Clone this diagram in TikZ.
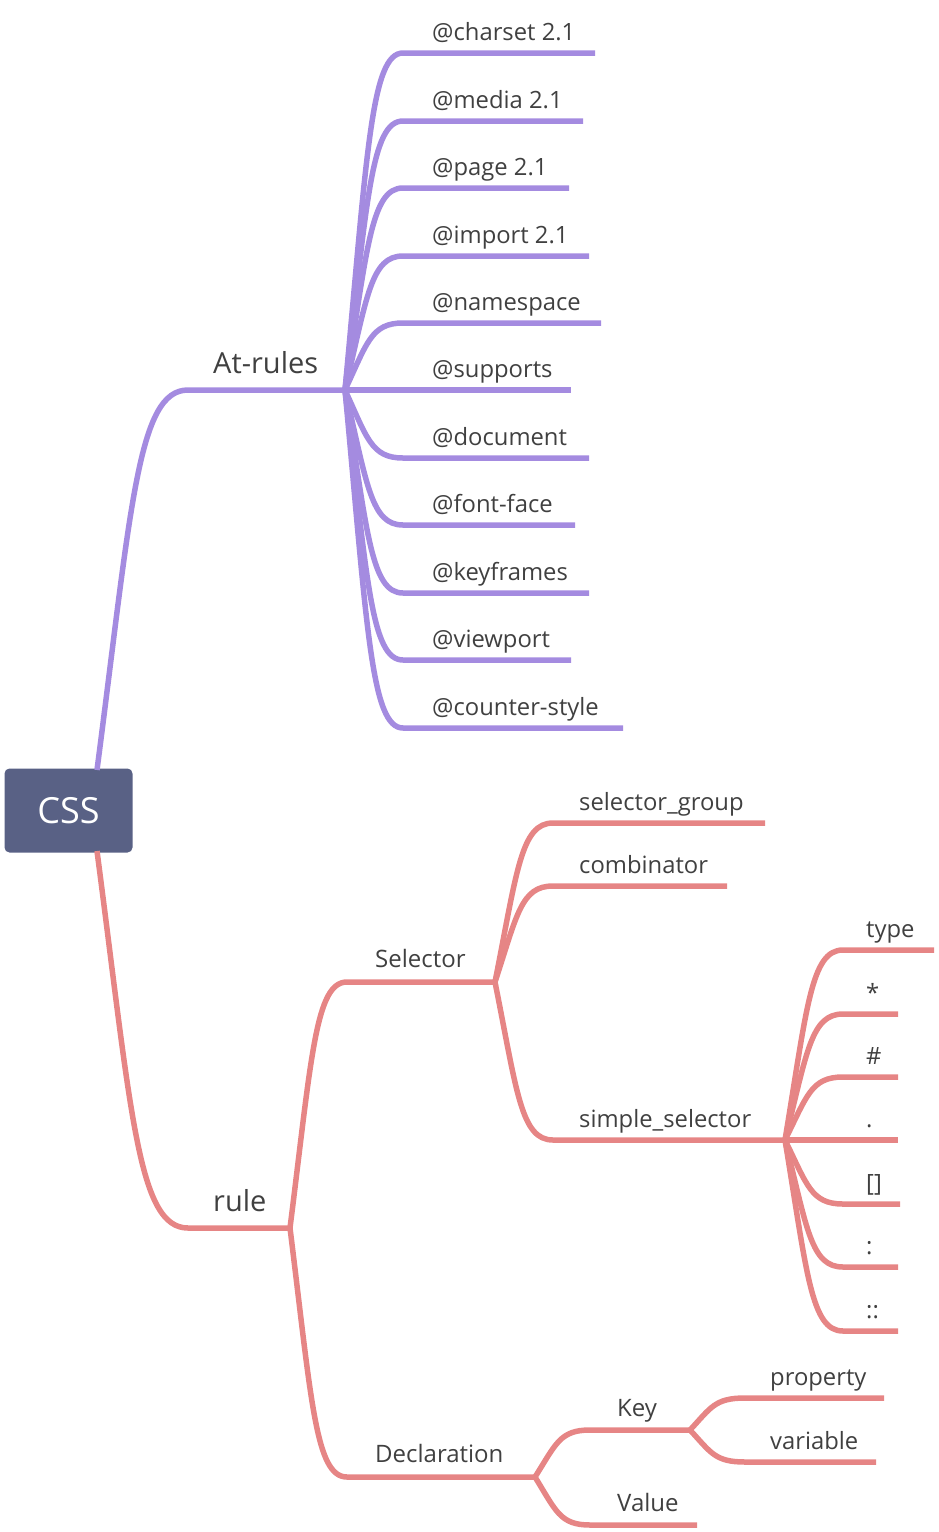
\documentclass[tikz,border=0pt]{standalone}
\usepackage{fontspec}
\setmainfont{Open Sans}
\usetikzlibrary{calc}
\definecolor{pur}{HTML}{A48BE0}
\definecolor{red}{HTML}{E68585}
\definecolor{boxc}{HTML}{596185}
\definecolor{txt}{HTML}{404040}
\tikzset{
  pline/.style={draw=pur, line width=5.5pt, line cap=butt, line join=round},
  rline/.style={draw=red, line width=5.5pt, line cap=butt, line join=round},
  leaf/.style={inner sep=0pt, text=txt, font=\fontsize{23.8}{26}\selectfont, anchor=base west},
  mid/.style={inner sep=0pt, text=txt, font=\fontsize{24}{28}\selectfont, anchor=base west},
  top/.style={inner sep=0pt, text=txt, font=\fontsize{29}{32}\selectfont, anchor=base west},
}
% curve from hub #1 to point #2
\newcommand\crv[2]{let \p1=(#1), \p2=(#2) in (\p1) .. controls ({\x1+0.38*(\x2-\x1)},{\y1+0.7*(\y2-\y1)}) and ({\x1+0.45*(\x2-\x1)},\y2) .. (\p2)}
% leaf: style, hub, name, line y, start x, end x, label x, text
\newcommand\leaf[8]{%
  \coordinate (#3-s) at (#5,#4);
  \coordinate (#3-e) at (#6,#4);
  \node[leaf] (#3) at (#7,#4-13) {#8};
  \draw[#1] \crv{#2}{#3-s} -- (#3-e);
}
\begin{document}
\begin{tikzpicture}[x=1pt,y=-1pt]
\useasboundingbox (0,0) rectangle (938,1532);

% root
\node[fill=boxc, rounded corners=5pt, minimum width=128pt, minimum height=84pt, inner sep=0pt,
      text=white, font=\fontsize{36}{40}\selectfont] (css) at (68.5,810.5) {CSS};
\coordinate (css-t) at (97,770);
\coordinate (css-b) at (97,851);

% At-rules
\coordinate (at-s) at (188,390);
\coordinate (athub) at (345,390);
\node[top] (atrules) at (213,373) {At-rules};
\draw[pline] \crv{css-t}{at-s} -- (athub);

\leaf{pline}{athub}{charset}{53}{403}{595}{432}{@charset 2.1}
\leaf{pline}{athub}{media}{121}{403}{583}{432}{@media 2.1}
\leaf{pline}{athub}{page}{188}{403}{569}{432}{@page 2.1}
\leaf{pline}{athub}{import}{256}{403}{589}{432}{@import 2.1}
\leaf{pline}{athub}{namespace}{323}{403}{601}{432}{@namespace}
\coordinate (supports-e) at (571,390);
\node[leaf] (supports) at (432,377) {@supports};
\draw[pline] (athub) -- (supports-e);
\leaf{pline}{athub}{document}{458}{403}{589}{432}{@document}
\leaf{pline}{athub}{fontface}{525}{403}{575}{432}{@font-face}
\leaf{pline}{athub}{keyframes}{593}{403}{589}{432}{@keyframes}
\leaf{pline}{athub}{viewport}{660}{403}{571}{432}{@viewport}
\leaf{pline}{athub}{counter}{728}{403}{623}{432}{@counter-style}

% rule
\coordinate (rule-s) at (188,1228);
\coordinate (rulehub) at (290,1228);
\node[top] (rule) at (213,1211) {rule};
\draw[rline] \crv{css-b}{rule-s} -- (rulehub);

% Selector
\coordinate (sel-s) at (347,982);
\coordinate (selhub) at (495,982);
\node[mid] (selector) at (375,967) {Selector};
\draw[rline] \crv{rulehub}{sel-s} -- (selhub);

\leaf{rline}{selhub}{selgroup}{823}{553}{765}{579}{selector\_group}
\leaf{rline}{selhub}{combinator}{886}{553}{727}{579}{combinator}

\coordinate (simple-s) at (553,1140);
\coordinate (simplehub) at (785,1140);
\node[leaf] (simple) at (579,1127) {simple\_selector};
\draw[rline] \crv{selhub}{simple-s} -- (simplehub);

\leaf{rline}{simplehub}{type}{950}{843}{934}{866}{type}
\leaf{rline}{simplehub}{star}{1014}{843}{898}{866}{*}
\leaf{rline}{simplehub}{hash}{1077}{843}{898}{866}{\#}
\coordinate (dot-e) at (898,1140);
\node[leaf] (dot) at (866,1127) {.};
\draw[rline] (simplehub) -- (dot-e);
\leaf{rline}{simplehub}{brackets}{1204}{843}{900}{866}{[]}
\leaf{rline}{simplehub}{colon}{1267}{843}{898}{866}{:}
\leaf{rline}{simplehub}{dcolon}{1331}{843}{898}{866}{::}

% Declaration
\coordinate (decl-s) at (347,1477);
\coordinate (declhub) at (535,1477);
\node[mid] (decl) at (375,1462) {Declaration};
\draw[rline] \crv{rulehub}{decl-s} -- (declhub);

\coordinate (key-s) at (590,1430);
\coordinate (keyhub) at (690,1430);
\node[mid] (key) at (617,1416) {Key};
\draw[rline] \crv{declhub}{key-s} -- (keyhub);

\coordinate (value-s) at (590,1525);
\coordinate (value-e) at (697,1525);
\node[mid] (value) at (617,1511) {Value};
\draw[rline] \crv{declhub}{value-s} -- (value-e);

\leaf{rline}{keyhub}{property}{1398}{745}{884}{770}{property}
\leaf{rline}{keyhub}{variable}{1462}{745}{876}{770}{variable}
\end{tikzpicture}
\end{document}
